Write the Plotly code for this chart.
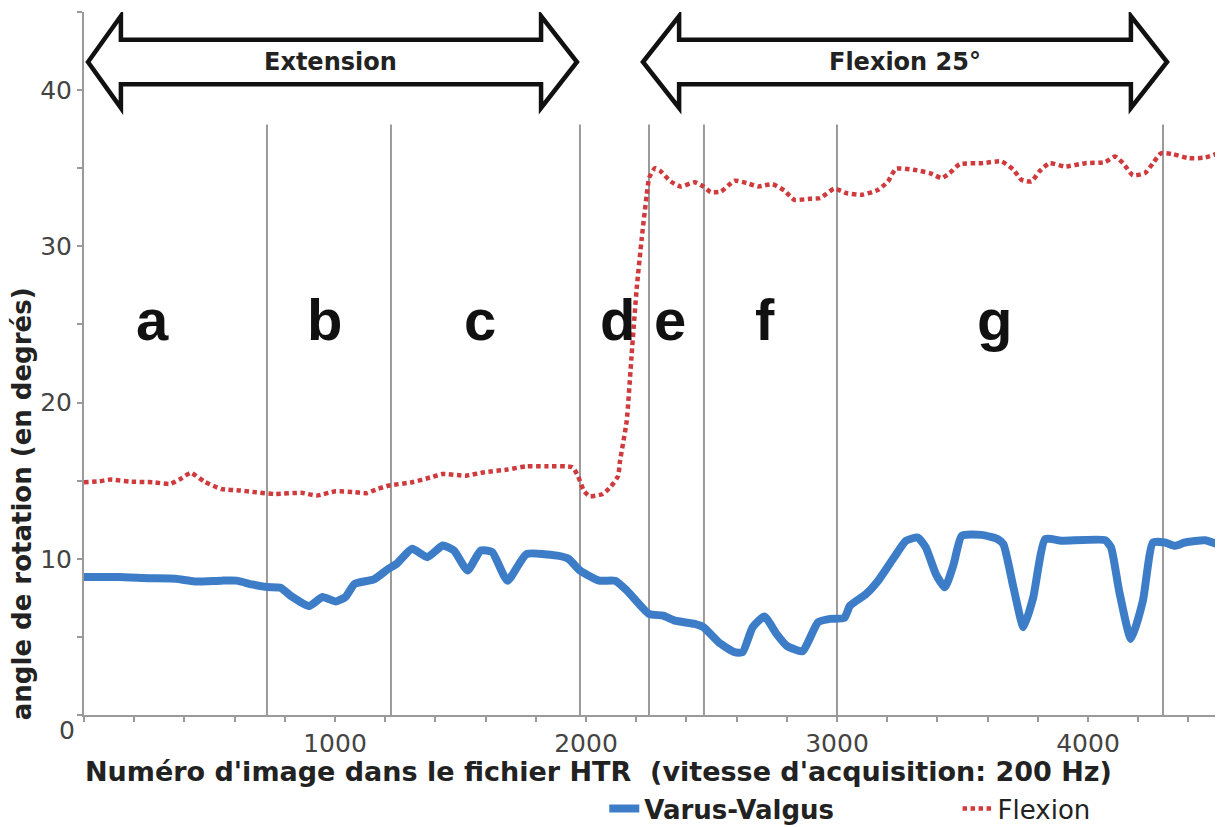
import plotly.graph_objects as go

# ---- data ----
vv_x = [0, 137, 258, 365, 441, 547, 608, 669, 730, 783, 821, 897, 950, 1003, 1041, 1079, 1155, 1213,
        1246, 1307, 1368, 1429, 1474, 1528, 1581, 1626, 1687, 1763, 1885, 1930, 1976, 2052, 2116, 2164,
        2251, 2307, 2354, 2433, 2468, 2529, 2592, 2624, 2664, 2711, 2759, 2799, 2862, 2925, 2973, 3029,
        3052, 3116, 3164, 3227, 3275, 3322, 3354, 3394, 3430, 3465, 3497, 3576, 3640, 3663, 3703, 3743,
        3782, 3830, 3894, 4068, 4092, 4124, 4171, 4219, 4259, 4306, 4346, 4386, 4466, 4521]
vv_y = [8.83, 8.83, 8.76, 8.72, 8.55, 8.6, 8.6, 8.36, 8.19, 8.15, 7.66, 6.98, 7.55, 7.27, 7.55, 8.4, 8.68, 9.36,
        9.68, 10.64, 10.1, 10.85, 10.53, 9.25, 10.53, 10.43, 8.6, 10.3, 10.2, 10.0, 9.25, 8.6, 8.59, 7.95,
        6.47, 6.36, 6.04, 5.83, 5.62, 4.65, 4.02, 4.02, 5.62, 6.3, 5.19, 4.44, 4.08, 5.94, 6.15, 6.21,
        7.0, 7.74, 8.59, 10.08, 11.15, 11.36, 10.72, 9.02, 8.17, 9.66, 11.47, 11.53, 11.26, 10.94, 8.17, 5.62,
        7.53, 11.26, 11.15, 11.19, 10.72, 7.95, 4.86, 7.32, 11.04, 11.04, 10.83, 11.04, 11.19, 10.9]

flex_x = [0, 61, 106, 182, 274, 342, 380, 426, 479, 547, 623, 684, 760, 866, 927, 1003, 1079, 1125, 1170,
          1216, 1307, 1383, 1429, 1520, 1596, 1687, 1763, 1839, 1946, 1968, 1991, 2015, 2067, 2098, 2128,
          2135, 2162, 2182, 2202, 2222, 2242, 2252, 2275, 2295, 2338, 2378, 2433, 2468, 2497, 2537, 2592,
          2640, 2687, 2743, 2791, 2830, 2894, 2933, 2989, 3037, 3100, 3164, 3203, 3235, 3306, 3370, 3417,
          3449, 3489, 3576, 3656, 3703, 3735, 3775, 3806, 3846, 3909, 3989, 4068, 4108, 4140, 4179, 4227,
          4259, 4291, 4338, 4402, 4465, 4521]
flex_y = [14.9, 14.96, 15.07, 14.94, 14.9, 14.79, 15.07, 15.5, 14.94, 14.47, 14.37, 14.26, 14.15, 14.22, 14.05,
          14.32, 14.26, 14.2, 14.47, 14.69, 14.9, 15.22, 15.43, 15.32, 15.54, 15.71, 15.92, 15.92, 15.86, 15.3,
          14.37, 14.0, 14.15, 14.6, 15.3, 16.2, 18.8, 23.1, 27.3, 30.5, 33.3, 34.4, 35.0, 34.84, 34.15, 33.83,
          34.1, 33.83, 33.47, 33.5, 34.2, 34.05, 33.83, 33.98, 33.56, 32.98, 33.05, 33.09, 33.69, 33.41, 33.3,
          33.62, 34.15, 34.96, 34.9, 34.69, 34.37, 34.69, 35.26, 35.32, 35.43, 34.9, 34.26, 34.15, 34.79, 35.32,
          35.11, 35.32, 35.39, 35.75, 35.32, 34.54, 34.69, 35.32, 35.96, 35.9, 35.64, 35.68, 35.96]

phase_bounds = [729, 1223, 1976, 2251, 2470, 3000, 4299]
phase_labels = ["a", "b", "c", "d", "e", "f", "g"]
phase_label_x = [271, 960, 1578, 2124, 2335, 2713, 3629]

x_ticks = [0, 1000, 2000, 3000, 4000]
y_ticks = [10, 20, 30, 40]

arrow_names = ["Extension", "Flexion 25°"]
arrow_tip_left = [16, 2227]
arrow_base_left = [147, 2371]
arrow_base_right = [1821, 4171]
arrow_tip_right = [1964, 4315]

x_title = "Numéro d'image dans le fichier HTR&nbsp; (vitesse d'acquisition: 200 Hz)"
y_title = "angle de rotation (en degrés)"

# ---- figure ----
fig = go.Figure()
fig.add_trace(go.Scatter(
    x=vv_x, y=vv_y, mode="lines", name="<b>Varus-Valgus</b>", legend="legend",
    line=dict(color="#3d7dc8", width=8, shape="spline", smoothing=0.5),
))
fig.add_trace(go.Scatter(
    x=flex_x, y=flex_y, mode="lines", name="Flexion", legend="legend2",
    line=dict(color="#cf3a3c", width=4.5, dash="4.5px,3.5px", shape="spline", smoothing=0.5),
))

shapes = []
for bx in phase_bounds:
    shapes.append(dict(type="line", xref="x", yref="y", x0=bx, x1=bx, y0=0, y1=37.8,
                       line=dict(color="#9a9a9a", width=2), layer="below"))

ymid, hh, sh = 41.8, 2.94, 1.43
for tl, bl, br, tr in zip(arrow_tip_left, arrow_base_left, arrow_base_right, arrow_tip_right):
    path = (f"M{tl},{ymid} L{bl},{ymid+hh} L{bl},{ymid+sh} L{br},{ymid+sh} L{br},{ymid+hh} "
            f"L{tr},{ymid} L{br},{ymid-hh} L{br},{ymid-sh} L{bl},{ymid-sh} L{bl},{ymid-hh} Z")
    shapes.append(dict(type="path", xref="x", yref="y", path=path,
                       fillcolor="white", line=dict(color="#111111", width=4.5)))

annotations = []
for name, bl, br in zip(arrow_names, arrow_base_left, arrow_base_right):
    annotations.append(dict(x=(bl + br) / 2, y=ymid, xref="x", yref="y", text=f"<b>{name}</b>",
                            showarrow=False, font=dict(family="DejaVu Sans", size=24, color="#222222")))
for lab, lx in zip(phase_labels, phase_label_x):
    annotations.append(dict(x=lx, y=25.3, xref="x", yref="y", text=f"<b>{lab}</b>", showarrow=False,
                            font=dict(family="Liberation Sans", size=58, color="#111111")))
annotations.append(dict(x=-0.0545, y=0.3, xref="paper", yref="paper", text=f"<b>{y_title}</b>",
                        textangle=-90, showarrow=False, xanchor="center", yanchor="middle",
                        font=dict(family="DejaVu Sans", size=26, color="#222222")))
annotations.append(dict(x=0.4525, y=-0.08, xref="paper", yref="paper", text=f"<b>{x_title}</b>",
                        showarrow=False, xanchor="center", yanchor="middle",
                        font=dict(family="DejaVu Sans", size=27, color="#222222")))
annotations.append(dict(x=-0.015, y=-0.022, xref="paper", yref="paper", text="0", showarrow=False,
                        xanchor="center", yanchor="middle",
                        font=dict(family="DejaVu Sans", size=25, color="#444444")))

legend_common = dict(orientation="h", xanchor="left", yanchor="middle", y=-0.133,
                     font=dict(family="DejaVu Sans", size=26, color="#222222"),
                     bgcolor="rgba(0,0,0,0)")
# page body adds an 8px offset, so the figure is 8px smaller than the window
fig.update_layout(
    width=1215, height=819,
    margin=dict(l=76, r=3, t=4, b=112, autoexpand=False),
    paper_bgcolor="white", plot_bgcolor="white",
    shapes=shapes, annotations=annotations,
    showlegend=True,
    legend=dict(x=0.458, **legend_common),
    legend2=dict(x=0.769, **legend_common),
    xaxis=dict(range=[0, 4526], showgrid=False, zeroline=False, showline=True,
               linecolor="#9a9a9a", linewidth=2, ticks="outside", ticklen=5, tickcolor="#9a9a9a",
               tickwidth=2, tickvals=x_ticks, ticktext=[""] + [str(v) for v in x_ticks[1:]],
               tickfont=dict(family="DejaVu Sans", size=25, color="#444444"),
               minor=dict(dtick=200, ticks="outside", ticklen=5, tickcolor="#9a9a9a", tickwidth=2)),
    yaxis=dict(range=[0, 45], showgrid=False, zeroline=False, showline=True,
               linecolor="#9a9a9a", linewidth=2, ticks="outside", ticklen=5, tickcolor="#9a9a9a",
               tickwidth=2, tickvals=y_ticks,
               tickfont=dict(family="DejaVu Sans", size=25, color="#444444"),
               minor=dict(dtick=5, ticks="outside", ticklen=5, tickcolor="#9a9a9a", tickwidth=2)),
)

fig.write_html("out.html")
